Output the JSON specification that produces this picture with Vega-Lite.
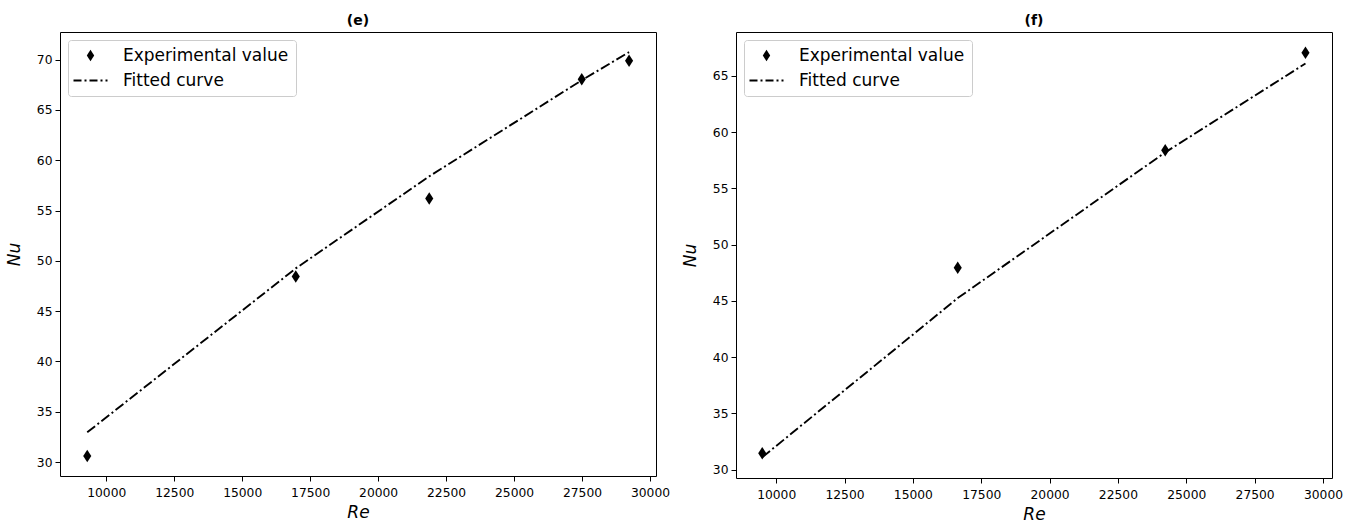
{
  "$schema": "https://vega.github.io/schema/vega-lite/v6.json",
  "autosize": {"type": "pad"},
  "padding": {"left": 4, "top": 13, "right": 10, "bottom": 2},
  "background": "white",
  "bounds": "flush",
  "spacing": 80,
  "config": {
    "font": "DejaVu Sans",
    "view": {"stroke": "black", "strokeWidth": 1},
    "axis": {"labelFont": "DejaVu Sans", "labelFontSize": 12.3, "labelColor": "black", "tickColor": "black", "tickSize": 5, "tickWidth": 1, "domain": false, "grid": false, "titleFont": "DejaVu Sans", "titleFontSize": 17, "titleFontStyle": "italic", "titleFontWeight": "normal", "titleColor": "black", "labelPadding": 3},
    "axisX": {"labelPadding": 5, "titlePadding": 6},
    "axisY": {"titlePadding": 13},
    "title": {"font": "DejaVu Sans", "fontSize": 14, "fontWeight": "bold", "color": "black", "offset": 4},
    "legend": {"labelFont": "DejaVu Sans", "labelFontSize": 17, "labelColor": "black", "orient": "top-left", "offset": 8, "padding": 7, "rowPadding": 7, "strokeColor": "#cccccc", "fillColor": "rgba(255,255,255,0.8)", "cornerRadius": 3, "symbolSize": 225, "symbolOffset": 7, "labelOffset": 24, "labelLimit": 400}
  },
  "datasets": {
    "e_pts": [
      {"Re": 9300, "Nu": 30.6, "series": "Experimental value"},
      {"Re": 16970, "Nu": 48.45, "series": "Experimental value"},
      {"Re": 21880, "Nu": 56.2, "series": "Experimental value"},
      {"Re": 27490, "Nu": 68.05, "series": "Experimental value"},
      {"Re": 29230, "Nu": 69.9, "series": "Experimental value"}
    ],
    "e_fit": [
      {"Re": 9300, "Nu": 32.95, "series": "Fitted curve"},
      {"Re": 16970, "Nu": 49.25, "series": "Fitted curve"},
      {"Re": 21880, "Nu": 58.4, "series": "Fitted curve"},
      {"Re": 27490, "Nu": 67.95, "series": "Fitted curve"},
      {"Re": 29230, "Nu": 70.75, "series": "Fitted curve"}
    ],
    "f_pts": [
      {"Re": 9490, "Nu": 31.45, "series": "Experimental value"},
      {"Re": 16640, "Nu": 47.95, "series": "Experimental value"},
      {"Re": 24230, "Nu": 58.4, "series": "Experimental value"},
      {"Re": 29360, "Nu": 67.05, "series": "Experimental value"}
    ],
    "f_fit": [
      {"Re": 9490, "Nu": 31.1, "series": "Fitted curve"},
      {"Re": 16640, "Nu": 45.25, "series": "Fitted curve"},
      {"Re": 24230, "Nu": 58.2, "series": "Fitted curve"},
      {"Re": 29360, "Nu": 66.1, "series": "Fitted curve"}
    ]
  },
  "resolve": {"scale": {"x": "independent", "y": "independent", "color": "independent"}, "legend": {"color": "independent"}},
  "hconcat": [
    {
      "width": 596,
      "height": 444,
      "title": "(e)",
      "layer": [
        {
          "data": {"name": "e_fit"},
          "mark": {"type": "line", "strokeDash": [10, 3, 2, 3], "strokeWidth": 1.9},
          "encoding": {
            "x": {"field": "Re", "type": "quantitative", "scale": {"domain": [8298, 30221], "nice": false, "zero": false}, "axis": {"title": "Re", "values": [10000, 12500, 15000, 17500, 20000, 22500, 25000, 27500, 30000], "format": "d"}},
            "y": {"field": "Nu", "type": "quantitative", "scale": {"domain": [28.61, 72.75], "nice": false, "zero": false}, "axis": {"title": "Nu", "values": [30, 35, 40, 45, 50, 55, 60, 65, 70], "format": "d"}},
            "color": {"field": "series", "type": "nominal", "scale": {"domain": ["Experimental value", "Fitted curve"], "range": ["black", "black"]}, "legend": {"title": null, "encode": {"symbols": {"update": {
              "shape": {"signal": "datum.value === 'Fitted curve' ? 'stroke' : 'M0,-1L0.65,0L0,1L-0.65,0Z'"},
              "size": {"signal": "datum.value === 'Fitted curve' ? 1156 : 130"},
              "strokeDash": {"signal": "datum.value === 'Fitted curve' ? [8, 3, 2, 3] : [1, 0]"},
              "stroke": {"value": "black"},
              "fill": {"signal": "datum.value === 'Fitted curve' ? 'transparent' : 'black'"},
              "strokeWidth": {"signal": "datum.value === 'Fitted curve' ? 2 : 0"},
              "opacity": {"value": 1}
            }}}}}
          }
        },
        {
          "data": {"name": "e_pts"},
          "mark": {"type": "point", "shape": "M0,-1L0.65,0L0,1L-0.65,0Z", "filled": true, "size": 156, "opacity": 1},
          "encoding": {
            "x": {"field": "Re", "type": "quantitative"},
            "y": {"field": "Nu", "type": "quantitative"},
            "color": {"field": "series", "type": "nominal"}
          }
        }
      ]
    },
    {
      "width": 596,
      "height": 446,
      "title": "(f)",
      "layer": [
        {
          "data": {"name": "f_fit"},
          "mark": {"type": "line", "strokeDash": [10, 3, 2, 3], "strokeWidth": 1.9},
          "encoding": {
            "x": {"field": "Re", "type": "quantitative", "scale": {"domain": [8530, 30330], "nice": false, "zero": false}, "axis": {"title": "Re", "values": [10000, 12500, 15000, 17500, 20000, 22500, 25000, 27500, 30000], "format": "d"}},
            "y": {"field": "Nu", "type": "quantitative", "scale": {"domain": [29.26, 68.9], "nice": false, "zero": false}, "axis": {"title": "Nu", "values": [30, 35, 40, 45, 50, 55, 60, 65], "format": "d"}},
            "color": {"field": "series", "type": "nominal", "scale": {"domain": ["Experimental value", "Fitted curve"], "range": ["black", "black"]}, "legend": {"title": null, "encode": {"symbols": {"update": {
              "shape": {"signal": "datum.value === 'Fitted curve' ? 'stroke' : 'M0,-1L0.65,0L0,1L-0.65,0Z'"},
              "size": {"signal": "datum.value === 'Fitted curve' ? 1156 : 130"},
              "strokeDash": {"signal": "datum.value === 'Fitted curve' ? [8, 3, 2, 3] : [1, 0]"},
              "stroke": {"value": "black"},
              "fill": {"signal": "datum.value === 'Fitted curve' ? 'transparent' : 'black'"},
              "strokeWidth": {"signal": "datum.value === 'Fitted curve' ? 2 : 0"},
              "opacity": {"value": 1}
            }}}}}
          }
        },
        {
          "data": {"name": "f_pts"},
          "mark": {"type": "point", "shape": "M0,-1L0.65,0L0,1L-0.65,0Z", "filled": true, "size": 156, "opacity": 1},
          "encoding": {
            "x": {"field": "Re", "type": "quantitative"},
            "y": {"field": "Nu", "type": "quantitative"},
            "color": {"field": "series", "type": "nominal"}
          }
        }
      ]
    }
  ]
}
